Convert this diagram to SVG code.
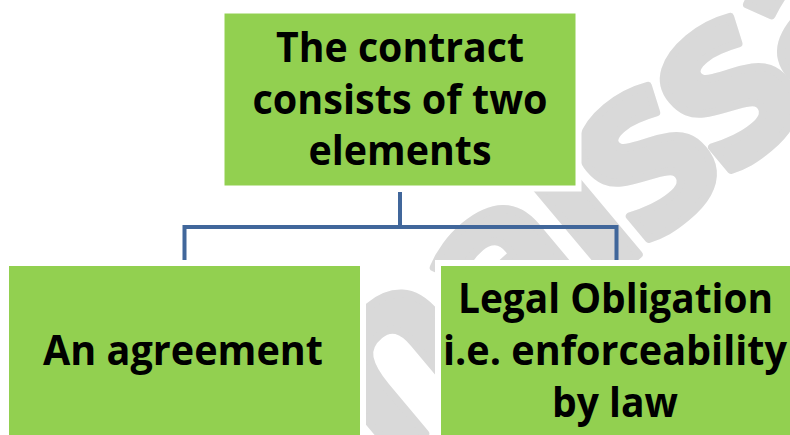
<svg xmlns="http://www.w3.org/2000/svg" width="790" height="435" viewBox="0 0 790 435">
  <style>
    .wm { font-family: "Open Sans", "DejaVu Sans", sans-serif; font-weight: bold; font-size: 240px; letter-spacing: -12px; fill: #d9d9d9; stroke: #d9d9d9; stroke-width: 8; stroke-linejoin: round; }
    .box { fill: #92d050; stroke: #ffffff; stroke-width: 6; }
    .lbl { font-family: "Open Sans", "Liberation Sans", sans-serif; font-weight: bold; font-size: 41px; fill: #000000; text-anchor: middle; }
    .conn { fill: none; stroke: #41679b; stroke-width: 4; }
  </style>
  <rect x="0" y="0" width="790" height="435" fill="#ffffff"/>
  <g id="watermark">
    <text class="wm" transform="translate(284,552) rotate(-40)">enaissa</text>
  </g>
  <g id="connectors">
    <path class="conn" d="M400,192 V227"/>
    <path class="conn" d="M184.5,261 V227 H616.5 V261"/>
  </g>
  <g id="node-top">
    <rect class="box" x="221.5" y="10.5" width="357" height="178"/>
    <text class="lbl" x="400" y="62" textLength="248" lengthAdjust="spacingAndGlyphs">The contract</text>
    <text class="lbl" x="400" y="113.5" textLength="295" lengthAdjust="spacingAndGlyphs">consists of two</text>
    <text class="lbl" x="400" y="165" textLength="183" lengthAdjust="spacingAndGlyphs">elements</text>
  </g>
  <g id="node-left">
    <rect class="box" x="6" y="263" width="357" height="180"/>
    <text class="lbl" x="183" y="365" textLength="280" lengthAdjust="spacingAndGlyphs">An agreement</text>
  </g>
  <g id="node-right">
    <rect class="box" x="438" y="263" width="360" height="180"/>
    <text class="lbl" x="615.5" y="313" textLength="315" lengthAdjust="spacingAndGlyphs">Legal Obligation</text>
    <text class="lbl" x="615" y="365" textLength="344" lengthAdjust="spacingAndGlyphs">i.e. enforceability</text>
    <text class="lbl" x="615" y="417" textLength="126" lengthAdjust="spacingAndGlyphs">by law</text>
  </g>
</svg>
